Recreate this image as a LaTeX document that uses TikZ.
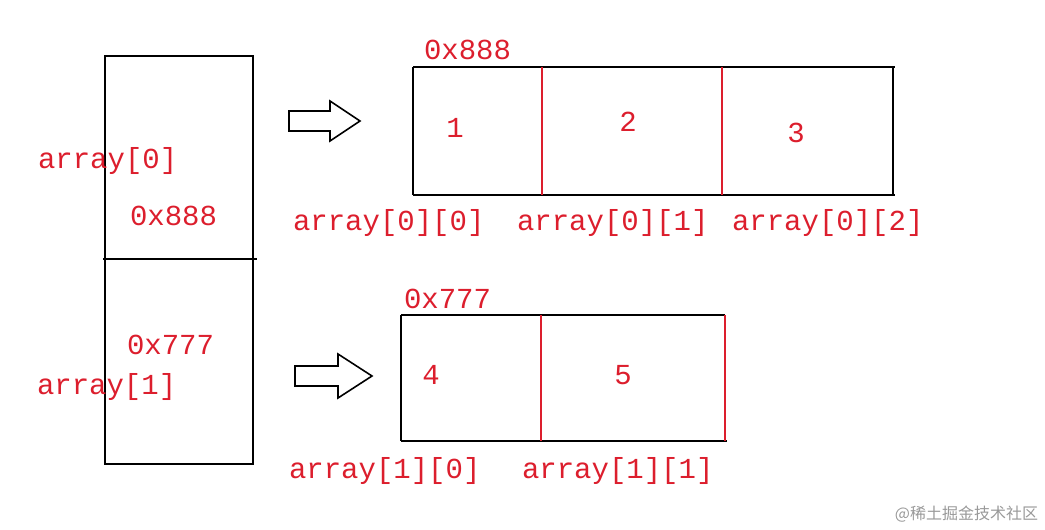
\documentclass[tikz,border=0pt]{standalone}
\usepackage{fontspec}
\setmainfont{Liberation Mono}
\newfontfamily\cjk{Noto Sans CJK SC}
\definecolor{lblred}{RGB}{220,30,45}
\begin{document}
\begin{tikzpicture}[x=1pt,y=-1pt,every node/.style={outer sep=0pt,inner sep=0pt}]
\tikzset{
    box/.style   = {draw=black,line width=2pt},
    sep/.style   = {draw=lblred,line width=2pt},
    lbl/.style   = {text=lblred,font=\fontsize{29}{30}\selectfont},
    num/.style   = {text=lblred,font=\fontsize{29}{30}\selectfont},
    blk/.style   = {draw=black,line width=1.6pt,fill=white}
}
\useasboundingbox (0,0) rectangle (1045,530);

%% pointer array on the left
\draw [box] (105,56) rectangle (253,464);
\draw [box] (103,259) -- (257,259);
\node (a0)  [lbl,anchor=west] at (38,161) {array[0]};
\node (p0)  [lbl,anchor=west] at (130,216) {0x888};
\node (p1)  [lbl,anchor=west] at (127,345) {0x777};
\node (a1)  [lbl,anchor=west] at (37,387) {array[1]};

%% hollow arrows
\draw [blk] (289,111) -- (330,111) -- (330,101) -- (360,121) -- (330,141) -- (330,131) -- (289,131) -- cycle;
\draw [blk] (295,366) -- (338,366) -- (338,354) -- (372,376) -- (338,398) -- (338,386) -- (295,386) -- cycle;

%% first row
\draw [box] (413,67) -- (895,67);
\draw [box] (413,195) -- (895,195);
\draw [box] (413,67) -- (413,195);
\draw [box] (893,67) -- (893,195);
\draw [sep] (542,67) -- (542,195);
\draw [sep] (722,67) -- (722,195);
\node (r0)  [lbl,anchor=west] at (424,50) {0x888};
\node (e1)  [num] at (455,128) {1};
\node (e2)  [num] at (628,122) {2};
\node (e3)  [num] at (796,133) {3};
\node (i00) [lbl,anchor=west] at (293,223) {array[0][0]};
\node (i01) [lbl,anchor=west] at (517,223) {array[0][1]};
\node (i02) [lbl,anchor=west] at (732,223) {array[0][2]};

%% second row
\draw [box] (401,315) -- (725,315);
\draw [box] (401,441) -- (727,441);
\draw [box] (401,315) -- (401,441);
\draw [sep] (541,315) -- (541,441);
\draw [sep] (725,315) -- (725,441);
\node (r1)  [lbl,anchor=west] at (404,299) {0x777};
\node (e4)  [num] at (431,375) {4};
\node (e5)  [num] at (623,375) {5};
\node (i10) [lbl,anchor=west] at (289,471) {array[1][0]};
\node (i11) [lbl,anchor=west] at (522,471) {array[1][1]};

\node (wm) [anchor=east,text=black!40,font=\cjk\fontsize{16}{17}\selectfont] at (1038,514) {@稀土掘金技术社区};
\end{tikzpicture}
\end{document}
